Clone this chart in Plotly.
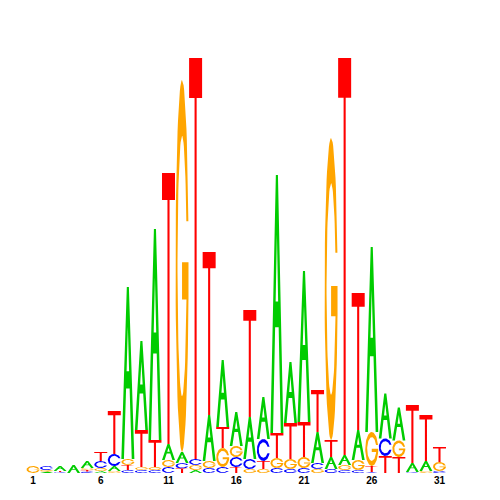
import math
import plotly.graph_objects as go

# ---------------- data (information content, bits) ----------------
positions = list(range(1, 32))
A_bits = [0, 0.0075, 0.025, 0.04, 0.035, 0.01, 0.025, 0.86, 0.445, 1.055, 0.08, 0.055, 0.015, 0.23, 0.335, 0.17,
          0.21, 0.21, 1.29, 0.305, 0.755, 0.155, 0.06, 0.05, 0.15, 0.925, 0.225, 0.165, 0.045, 0.05, 0]
C_bits = [0, 0.02, 0.005, 0, 0.0075, 0.035, 0.06, 0.015, 0.015, 0.015, 0.03, 0.0275, 0.03, 0.025, 0.03, 0.05,
          0.05, 0.11, 0.025, 0.02, 0.025, 0.03, 0.02, 0.015, 0.015, 0.005, 0.0875, 0, 0.005, 0, 0.01]
G_bits = [0.035, 0.0075, 0, 0, 0.01, 0.015, 0.01, 0.03, 0.015, 0.015, 0.035, 1.86, 0.025, 0.035, 0.095, 0.055,
          0.02, 0.02, 0.05, 0.05, 0.055, 0.02, 1.51, 0.025, 0.05, 0.17, 0, 0.0825, 0, 0.01, 0.045]
T_bits = [0, 0, 0.005, 0, 0.0075, 0.045, 0.215, 0.025, 0.185, 0.135, 1.355, 0.0225, 2.005, 0.815, 0.105, 0.03,
          0.535, 0.04, 0.125, 0.18, 0.175, 0.21, 0.085, 1.985, 0.685, 0.03, 0.085, 0.08, 0.29, 0.23, 0.075]
tick_positions = [1, 6, 11, 16, 21, 26, 31]
tick_labels = ["1", "6", "11", "16", "21", "26", "31"]

COLORS = {"A": "#00CC00", "C": "#0000FF", "G": "#FFA500", "T": "#FF0000"}

# ---------------- glyph outlines in a unit box ----------------
def arc(rx, ry, t0, t1, n=70):
    pts = []
    for i in range(n + 1):
        t = math.radians(t0 + (t1 - t0) * i / n)
        pts.append((0.5 + rx * math.cos(t), 0.5 + ry * math.sin(t)))
    return pts

def ring(top_y, bot_y):
    ro, ri = 0.5, 0.35
    ts_o = math.degrees(math.asin((top_y - 0.5) / ro))
    ts_i = math.degrees(math.asin((top_y - 0.5) / ri))
    te_o = 360 + math.degrees(math.asin((bot_y - 0.5) / ro))
    te_i = 360 + math.degrees(math.asin((bot_y - 0.5) / ri))
    return arc(ro, ro, ts_o, te_o) + arc(ri, ri, te_i, ts_i)

A_outer = [(0, 0), (0.42, 1), (0.58, 1), (1, 0), (0.8, 0), (0.8 - 0.4 * 0.41, 0.41), (0.2 + 0.4 * 0.41, 0.41), (0.2, 0)]
A_hole = [(0.2 + 0.4 * 0.51, 0.51), (0.5, 0.77), (0.8 - 0.4 * 0.51, 0.51)]
C_poly = [ring(0.648, 0.352)]
G_poly = [ring(0.62, 0.41), [(0.995, 0.51), (0.5, 0.51), (0.5, 0.41), (0.995, 0.41)]]
T_poly = [[(0, 1), (1, 1), (1, 0.9), (0.58, 0.9), (0.58, 0), (0.42, 0), (0.42, 0.9), (0, 0.9)]]
GLYPHS = {"A": [A_outer], "C": C_poly, "G": G_poly, "T": T_poly}

heights = {"A": A_bits, "C": C_bits, "G": G_bits, "T": T_bits}
xs = {k: [] for k in GLYPHS}
ys = {k: [] for k in GLYPHS}
hx, hy = [], []
W = 0.96

def place(poly, p, y0, h, X, Y):
    for (u, v) in poly:
        X.append(p - W / 2 + W * u)
        Y.append(y0 + h * v)
    X.append(None)
    Y.append(None)

for i, p in enumerate(positions):
    stack = sorted([(heights[k][i], k) for k in "ACGT"], key=lambda t: t[0])
    y0 = 0.0
    for h, k in stack:
        if h <= 0:
            continue
        for poly in GLYPHS[k]:
            place(poly, p, y0, h, xs[k], ys[k])
        if k == "A":
            place(A_hole, p, y0, h, hx, hy)
        y0 += h

fig = go.Figure()
for k in "ACGT":
    fig.add_trace(go.Scatter(x=xs[k], y=ys[k], mode="lines", fill="toself", fillcolor=COLORS[k],
                             line=dict(width=0, color=COLORS[k]), hoverinfo="skip", showlegend=False))
fig.add_trace(go.Scatter(x=hx, y=hy, mode="lines", fill="toself", fillcolor="white",
                         line=dict(width=0, color="white"), hoverinfo="skip", showlegend=False))

fig.update_layout(
    width=500, height=500,
    margin=dict(l=12, r=28, t=32, b=35),
    paper_bgcolor="white", plot_bgcolor="white",
    xaxis=dict(range=[0.04, 33.99], tickvals=tick_positions, ticktext=tick_labels,
               showgrid=False, zeroline=False, showline=False, ticks="",
               tickfont=dict(family="Liberation Sans", size=10, color="black", weight="bold")),
    yaxis=dict(range=[0, 2.165], visible=False, showgrid=False, zeroline=False),
)
fig.write_html("out.html")
